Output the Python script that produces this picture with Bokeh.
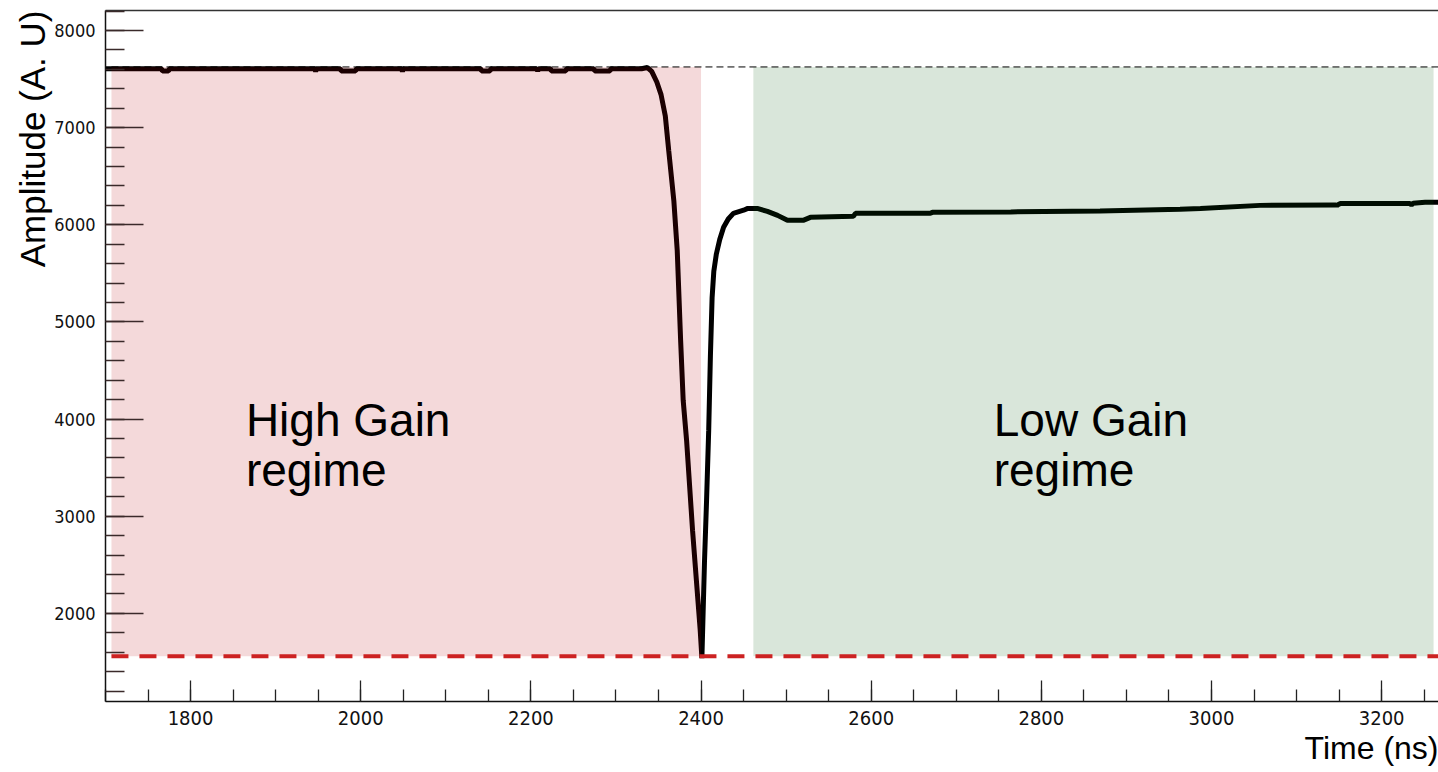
from bokeh.plotting import figure
from bokeh.models import Range1d, SingleIntervalTicker, FixedTicker, LinearAxis, Title
from bokeh.core.properties import value
from bokeh.embed import file_html
from bokeh.resources import INLINE

# ---- data ----
time_ns = [1700, 1766, 1767, 1774, 1775, 1946, 1947, 1948, 1976, 1977, 1994, 1995,
           2048, 2049, 2050, 2141, 2142, 2152, 2153, 2207, 2208, 2209, 2223, 2224,
           2241, 2242, 2274, 2275, 2293, 2294, 2330, 2337, 2342, 2348, 2353, 2358, 2362, 2368,
           2372, 2376, 2379, 2383, 2390, 2399, 2401,
           2404, 2406.5, 2409, 2411, 2413, 2415, 2418, 2422, 2426.5, 2432, 2438, 2450, 2455,
           2466, 2478, 2490, 2501.5, 2520, 2528.5, 2579, 2581.5, 2669.5, 2672, 2764,
           2869, 2963, 2987, 3057, 3146, 3147, 3148, 3151.5, 3233, 3235, 3237, 3251, 3267]
amplitude = [7606, 7606, 7582, 7582, 7606, 7606, 7578, 7606, 7606, 7584, 7584, 7606,
             7606, 7578, 7606, 7606, 7584, 7584, 7606, 7606, 7580, 7606, 7606, 7584,
             7584, 7606, 7606, 7584, 7584, 7606, 7606, 7619, 7580, 7470, 7340, 7120, 6766, 6251,
             5737, 4811, 4194, 3783, 2857, 1828, 1540,
             2518, 3166, 3886, 4650, 5250, 5520, 5700, 5850, 5974, 6060, 6118, 6150, 6169,
             6169, 6138, 6097, 6046, 6046, 6077, 6087, 6118, 6118, 6128, 6133,
             6143, 6159, 6169, 6200, 6205, 6190, 6205, 6220, 6220, 6205, 6222, 6231, 6231]

high_gain_x = [1707, 2400]
low_gain_x = [2461.5, 3261]
saturation_level = 7625
switch_threshold = 1560

x_ticks_interval = 200
y_ticks_interval = 1000

p = figure(width=1438, height=772, output_backend="svg", toolbar_location=None,
           x_range=Range1d(1700, 3266.8), y_range=Range1d(1093, 8206),
           min_border_left=105, min_border_right=0, min_border_top=10, min_border_bottom=71,
           x_axis_location=None, y_axis_location=None)
p.background_fill_color = "white"
p.border_fill_color = "white"
p.outline_line_color = None
p.xgrid.visible = False
p.ygrid.visible = False

tick_font = "'DejaVu Sans Condensed', 'Liberation Sans', sans-serif"

xaxis = LinearAxis(ticker=SingleIntervalTicker(interval=x_ticks_interval, num_minor_ticks=4))
xaxis.major_tick_in = 21
xaxis.major_tick_out = 0
xaxis.minor_tick_in = 12
xaxis.minor_tick_out = 0
xaxis.major_label_standoff = 9
xaxis.major_label_text_font = tick_font
xaxis.major_label_text_font_size = "20px"
xaxis.major_label_text_color = "#111111"
xaxis.axis_line_color = "#111111"
xaxis.axis_line_width = 1.5
xaxis.major_tick_line_color = "#222222"
xaxis.minor_tick_line_color = "#222222"
xaxis.major_tick_line_width = 1.3
xaxis.minor_tick_line_width = 1.3
p.add_layout(xaxis, "below")

yaxis = LinearAxis(ticker=SingleIntervalTicker(interval=y_ticks_interval, num_minor_ticks=5))
yaxis.major_tick_in = 38
yaxis.major_tick_out = 0
yaxis.minor_tick_in = 19
yaxis.minor_tick_out = 0
yaxis.major_label_standoff = 10
yaxis.major_label_text_font = tick_font
yaxis.major_label_text_font_size = "18px"
yaxis.major_label_text_color = "#111111"
yaxis.axis_line_color = "#111111"
yaxis.axis_line_width = 1.5
yaxis.major_tick_line_color = "#3a2a2a"
yaxis.minor_tick_line_color = "#3a2a2a"
yaxis.major_tick_line_width = 1.5
yaxis.minor_tick_line_width = 1.5
p.add_layout(yaxis, "left")

topaxis = LinearAxis(ticker=FixedTicker(ticks=[]), axis_line_color="#333333", axis_line_width=1.5,
                     major_tick_in=0, major_tick_out=0, minor_tick_in=0, minor_tick_out=0)
p.add_layout(topaxis, "above")

p.add_layout(Title(text="Time (ns)", align="right", text_font="Liberation Sans",
                   text_font_size="32px", text_font_style="normal", text_color="black",
                   standoff=0), "below")
p.add_layout(Title(text="Amplitude (A. U)", align="right", text_font="Liberation Sans",
                   text_font_size="35px", text_font_style="normal", text_color="black",
                   standoff=0), "left")

# waveform
p.line(time_ns, amplitude, line_color="black", line_width=5)

# shaded regimes drawn over the waveform with transparency
p.quad(left=[high_gain_x[0]], right=[high_gain_x[1]], bottom=[switch_threshold], top=[saturation_level],
       fill_color=(182, 0, 4), fill_alpha=0.15, line_color=None)
p.quad(left=[low_gain_x[0]], right=[low_gain_x[1]], bottom=[switch_threshold], top=[saturation_level],
       fill_color=(0, 88, 10), fill_alpha=0.15, line_color=None)

# reference levels
p.line([high_gain_x[0], 3300], [saturation_level, saturation_level], line_color="black",
       line_width=1, line_dash="7 4")
p.line([high_gain_x[0], 3300], [switch_threshold, switch_threshold], line_color="#cc2222",
       line_width=4, line_dash="17 11")

label_font = value("Liberation Sans")
p.text(x=[1865, 1865], y=[3990, 3475], text=["High Gain", "regime"], text_font=label_font,
       text_font_size="46px", text_color="black", text_baseline="alphabetic", text_align="left")
p.text(x=[2744, 2744], y=[3990, 3475], text=["Low Gain", "regime"], text_font=label_font,
       text_font_size="46px", text_color="black", text_baseline="alphabetic", text_align="left")

open("out.html", "w").write(file_html(p, INLINE))
